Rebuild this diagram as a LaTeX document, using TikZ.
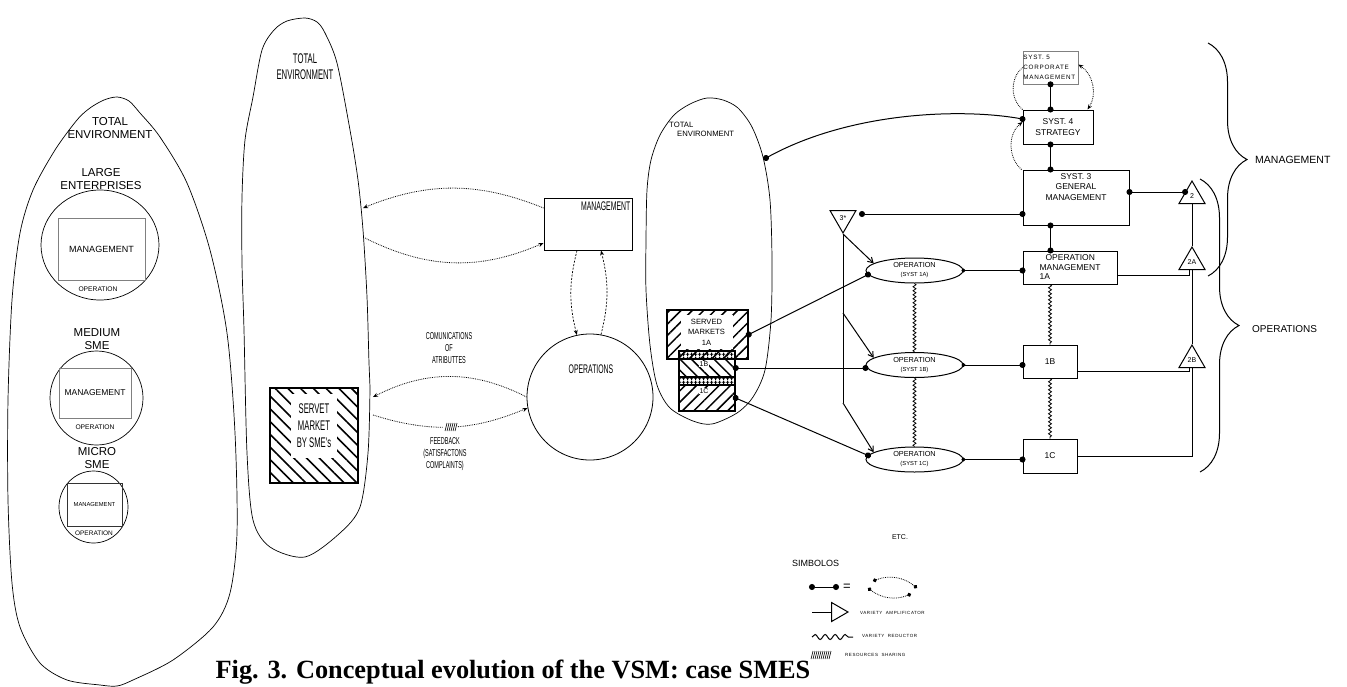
\documentclass[tikz,border=0pt]{standalone}
\usepackage{fontspec}
\setmainfont{Liberation Sans}
\newfontfamily\narrowfont{Liberation Sans}[FakeStretch=0.55]
\newfontfamily\spacedfont{Liberation Sans}[LetterSpace=12]
\newfontfamily\capfont{Liberation Serif}
\usetikzlibrary{shapes.geometric,arrows.meta,decorations.pathmorphing,decorations.pathreplacing,patterns.meta}
\newcommand{\fs}[2]{\fontsize{#1}{#2}\selectfont}
\tikzset{
  share/.pic={\foreach \i in {1,...,#1} \draw[line width=0.6pt] (\i*2-#1-1,4) -- (\i*2-#1+1,-4);}
}
\begin{document}
\begin{tikzpicture}[x=1pt,y=-1pt,
    env/.style={draw, line width=0.7pt},
    unit/.style={draw, ellipse, line width=0.7pt, inner sep=0pt},
    inbox/.style={draw=gray, line width=0.6pt, inner sep=0pt},
    txt/.style={inner sep=0pt, align=center},
    narrow/.style={txt, font=\narrowfont\fs{13}{16}},
    box/.style={draw, line width=1pt, inner sep=1pt, align=center, font=\fs{8.5}{10.5}},
    op/.style={draw, ellipse, line width=1pt, inner sep=0pt, minimum width=97, minimum height=25, align=center, font=\fs{7.3}{9}},
    tri/.style={draw, regular polygon, regular polygon sides=3, minimum size=30, inner sep=0pt, line width=1pt, font=\fs{7}{8}},
    mk/.style={draw, line width=1.2pt, inner sep=0pt},
    dl/.style={{Circle[length=6pt]}-{Circle[length=6pt]}, line width=1pt, shorten <=-3pt, shorten >=-3pt},
    ol/.style={{Circle[length=4pt]}-{Circle[length=6pt]}, line width=1pt, shorten <=-2pt, shorten >=-3pt},
    dots/.style={densely dotted, line width=0.8pt, >={Stealth[length=5pt,width=4pt]}},
    dsh/.style={dash pattern=on 2pt off 1.5pt, line width=0.7pt, >={Stealth[length=5pt,width=4pt]}},
    amp/.style={-{Straight Barb[length=5pt,width=6pt]}, line width=1pt},
    var/.style={decorate, decoration={snake, segment length=4pt, amplitude=1.5pt}, line width=0.8pt},
    brc/.style={decorate, decoration={brace, amplitude=39pt}, line width=1pt}]
  \useasboundingbox (0,0) rectangle (1347,686);

  \draw[env] plot[smooth cycle, tension=0.5] coordinates {(117,97) (104,100) (90,108) (77,120) (55,150) (33,190) (20,233) (12,300) (8,400) (8,500) (12,583) (20,627) (40,663) (67,680) (100,685) (117,686) (133,680) (173,660) (213,627) (230,593) (237,533) (235,433) (227,333) (210,250) (187,183) (160,137) (140,113) (129,101)};
  \draw[env] plot[smooth cycle, tension=0.5] coordinates {(305,18) (287,21) (274,30) (262,50) (253,97) (245,140) (242,197) (242,263) (244,330) (247,453) (253,520) (270,547) (305,557) (340,533) (360,507) (368,453) (370,387) (369,363) (367,297) (363,230) (358,180) (350,130) (337,63) (325,33) (317,22)};
  \draw[env] plot[smooth cycle, tension=0.5] coordinates {(707,98) (690,104) (674,115) (660,135) (651,160) (647,190) (646,240) (646,290) (650,345) (657,385) (670,408) (693,421) (712,424) (737,413) (753,397) (765,370) (771,320) (772,260) (770,200) (763,157) (752,127) (738,108) (723,100)};

  \node[txt, font=\fs{11.5}{12.5}] (te1) at (110,128) {TOTAL\\ENVIRONMENT};
  \node[txt, font=\fs{11.5}{13}] (tlg) at (101,179) {LARGE\\ENTERPRISES};
  \node[unit, minimum width=118, minimum height=110] (lg) at (100,245) {};
  \node[inbox, minimum width=87, minimum height=62, font=\fs{9}{10}] (lgm) at (101.5,249) {MANAGEMENT};
  \node[txt, font=\fs{6.7}{8}] (lgo) at (98,289) {OPERATION};
  \node[txt, font=\fs{11.5}{13}] (tmd) at (97,339) {MEDIUM\\SME};
  \node[unit, minimum width=93, minimum height=94] (md) at (96.5,398) {};
  \node[inbox, minimum width=72, minimum height=50, font=\fs{8.5}{10}] (mdm) at (95,393) {MANAGEMENT};
  \node[txt, font=\fs{6.7}{8}] (mdo) at (95,427) {OPERATION};
  \node[txt, font=\fs{11.5}{13}] (tmc) at (97,458) {MICRO\\SME};
  \node[unit, minimum width=69, minimum height=72] (mc) at (93.5,507) {};
  \node[inbox, draw=black!80, line width=1pt, minimum width=55, minimum height=43, font=\fs{5.8}{7}] (mcm) at (94.5,504.5) {MANAGEMENT};
  \node[txt, font=\fs{6.5}{8}] (mco) at (94,533) {OPERATION};

  \node[narrow, font=\narrowfont\fs{14}{16}] (te2) at (305,67) {TOTAL\\ENVIRONMENT};
  \node[draw, line width=1pt, minimum width=88, minimum height=52, inner sep=0pt] (mb) at (588,224) {};
  \node[narrow, anchor=north east, font=\narrowfont\fs{12.5}{14}] (mbt) at ([xshift=-2pt,yshift=-4pt]mb.north east) {MANAGEMENT};
  \node[draw, circle, line width=0.8pt, minimum size=126, inner sep=0pt] (ops) at (590,397) {};
  \node[narrow, font=\narrowfont\fs{12.5}{14}] (opst) at (591,369) {OPERATIONS};
  \node[draw, line width=1.3pt, minimum width=88, minimum height=95, inner sep=0pt, pattern={Lines[angle=-45,distance=9pt,line width=1.6pt]}] (sme) at (314,435.5) {};
  \node[narrow, fill=white, minimum width=46, minimum height=64, font=\narrowfont\fs{14}{17}] (smet) at (314,426) {SERVET\\MARKET\\BY SME's};
  \node[narrow, font=\narrowfont\fs{10}{12}] (cat) at (449,348) {COMUNICATIONS\\OF\\ATRIBUTTES};
  \node[narrow, font=\narrowfont\fs{10}{12}] (fbk) at (445,454) {FEEDBACK\\(SATISFACTONS\\COMPLAINTS)};
  \coordinate (e2a) at (363,208);
  \coordinate (e2b) at (365,238);
  \coordinate (e3a) at (373,397);
  \coordinate (e3b) at (373,415);

  \node[txt, anchor=north west, align=left, font=\fs{7.7}{9}] (te3) at (669,122) {TOTAL\\\hspace*{8pt}ENVIRONMENT};
  \coordinate (e4) at (766,158);
  \node[mk, pattern={Lines[angle=45,distance=8pt,line width=1.5pt]}, minimum width=81, minimum height=49] (sm1a) at (707.5,334.5) {};
  \node[txt, fill=white, minimum width=52, minimum height=34, font=\fs{7.6}{10.5}] (sm1at) at (706.5,332) {SERVED\\MARKETS\\1A};
  \node[mk, pattern={Hatch[distance=4pt,line width=1pt]}, minimum width=56, minimum height=8] (x1) at (707,355) {};
  \node[mk, pattern={Lines[angle=-45,distance=8pt,line width=1.5pt]}, minimum width=56, minimum height=18] (sm1b) at (707,368) {};
  \node[mk, pattern={Hatch[distance=4pt,line width=1pt]}, minimum width=56, minimum height=8] (x2) at (707,381) {};
  \node[mk, pattern={Lines[angle=45,distance=8pt,line width=1.5pt]}, minimum width=56, minimum height=26] (sm1c) at (707,398) {};
  \node[txt, fill=white, inner sep=0.5pt, font=\fs{7}{8}] (l1b) at (704,364) {1B};
  \node[txt, fill=white, inner sep=0.5pt, font=\fs{7}{8}] (l1c) at (704,391) {1C};

  \node[op] (op1a) at (914.5,270.5) {OPERATION\\{\fs{5.8}{7}(SYST 1A)}};
  \node[op] (op1b) at (914.5,365) {OPERATION\\{\fs{5.8}{7}(SYST 1B)}};
  \node[op] (op1c) at (914.5,459.5) {OPERATION\\{\fs{5.8}{7}(SYST 1C)}};
  \node[tri, shape border rotate=180] (c3) at (843,218) {3*};
  \coordinate (c3r) at (862,214);
  \coordinate (v1) at (843,313);
  \coordinate (v2) at (843,403);

  \node[box, minimum width=106, minimum height=55] (s3) at (1076,197.5) {};
  \node[txt, anchor=north, font=\fs{8.5}{10.5}] (s3t) at ([yshift=-3.5pt]s3.north) {SYST. 3\\GENERAL\\MANAGEMENT};
  \node[box, minimum width=70, minimum height=34] (s4) at (1058,127) {SYST. 4\\STRATEGY};
  \node[box, draw=gray, line width=0.7pt, minimum width=55, minimum height=33] (s5) at (1050.5,67.5) {};
  \node[txt, anchor=west, align=left, font=\spacedfont\fs{6.3}{10}] (s5t) at ([xshift=0.5pt]s5.west) {SYST. 5\\CORPORATE\\MANAGEMENT};
  \node[box, minimum width=94, minimum height=33, align=left, font=\fs{8.5}{9.5}] (om1a) at (1070,267.5) {\hspace*{6pt}OPERATION\\MANAGEMENT\\1A};
  \node[box, minimum width=54, minimum height=33] (b1b) at (1050,361.5) {1B};
  \node[box, minimum width=54, minimum height=34] (b1c) at (1050,456) {1C};
  \node[tri] (c2) at (1192,196) {2};
  \node[tri] (c2a) at (1192,262) {2A};
  \node[tri] (c2b) at (1192,360) {2B};

  \draw[brc] (1208,43) -- (1208,276);
  \draw[brc] (1200,179) -- (1200,472);
  \node[txt, anchor=west, font=\fs{10.5}{12}] (bm) at (1255,160) {MANAGEMENT};
  \node[txt, anchor=west, font=\fs{10}{12}] (bo) at (1252,329) {OPERATIONS};
  \node[txt, font=\fs{7}{8}] (etc) at (900,537) {ETC.};

  \begin{scope}
    \draw[dots,->] ([yshift=16pt]mb.west) to[bend right=22] (e2a);
    \draw[dots,->] (e2b) to[bend right=25] ([yshift=-19pt]mb.west);
    \draw[dots,->] (ops.180) to[bend right=27] (e3a);
    \draw[dots,->] (e3b) to[bend right=20] (ops.190);
    \draw[dsh,->] ([xshift=-11pt]mb.south) to[bend right=14] (ops.102);
    \draw[dsh,->] (ops.80) to[bend right=14] ([xshift=13pt]mb.south);
    \draw[dl] (sm1a.east) -- (op1a.185);
    \draw[dl] (sm1b.east) -- (sm1b.east -| op1b.west);
    \draw[dl] (sm1c.east) -- (op1c.175);
    \draw[ol] (op1a.east) -- (op1a.east -| om1a.west);
    \draw[ol] (op1b.east) -- (op1b.east -| b1b.west);
    \draw[ol] (op1c.east) -- (op1c.east -| b1c.west);
    \draw[var] (op1a.south) -- (op1b.north);
    \draw[var] (op1b.south) -- (op1c.north);
    \draw[var] (b1b.north |- om1a.south) -- (b1b.north);
    \draw[var] (b1b.south) -- (b1c.north);
    \draw[line width=1pt] (c3.corner 1) -- (v2);
    \draw[amp] (c3.corner 1) -- (op1a.170);
    \draw[amp] (v1) -- (op1b.170);
    \draw[amp] (v2) -- (op1c.170);
    \draw[dl] (c3r) -- (c3r -| s3.west);
    \draw[dl] (e4) .. controls (850,112) and (960,108) .. ([yshift=8pt]s4.west);
    \draw[dl] (s5.south) -- (s5.south |- s4.north);
    \draw[dl] (s5.south |- s4.south) -- (s5.south |- s3.north);
    \draw[dl] (s5.south |- s3.south) -- (s5.south |- om1a.north);
    \draw[dots,->] ([xshift=-1pt]s3.north west) to[bend left=50] ([yshift=5pt]s4.west);
    \draw[dots] (s4.north west) to[bend left=50] (s5.west);
    \draw[dots,<->] ([xshift=-6pt]s4.north east) to[bend right=45] ([yshift=3pt]s5.east);
    \draw[dl] (s3.east |- c2.side 1) -- (c2.side 1);
    \draw[line width=1pt] (c2.side 2) -- (c2a.corner 1);
    \draw[line width=1pt] (c2a.side 2) -- (c2b.corner 1);
    \draw[line width=1pt] (c2b.side 2) |- (b1c.east);
    \draw[line width=0.6pt] (om1a.east) ++(0,7.5) -| ([xshift=-3pt]c2a.side 2);
    \draw[line width=0.8pt] (b1b.east) ++(0,9.5) -| ([xshift=-3pt]c2b.side 2);
  \end{scope}
  \fill[white] (443,421) rectangle (457,433);
  \pic at (450,427) {share=6};

  \node[txt, anchor=west, font=\fs{9}{10}] (sym) at (792,563) {SIMBOLOS};
  \coordinate (k1) at (812,587);
  \coordinate (k2) at (836,587);
  \draw[dl] (k1) -- (k2);
  \node[txt, font=\fs{13}{13}] (eq) at (847,587) {=};
  \coordinate (k3) at (873,581);
  \coordinate (k4) at (917,588);
  \coordinate (k5) at (868,588);
  \coordinate (k6) at (911,594);
  \draw[dots, {Circle[length=4pt]}-{Circle[length=4pt]}] (k3) to[bend left=30] (k4);
  \draw[dots, {Circle[length=4pt]}-{Circle[length=4pt]}] (k5) to[bend right=30] (k6);
  \coordinate (k7) at (812,612);
  \node[draw, regular polygon, regular polygon sides=3, shape border rotate=-90, minimum size=22, inner sep=0pt, line width=1pt] (ka) at (837,612) {};
  \draw[line width=1pt] (k7) -- (ka.side 2);
  \node[txt, anchor=west, font=\spacedfont\fs{4.5}{5}] (kat) at (860,613) {VARIETY\ \ AMPLIFICATOR};
  \coordinate (k8) at (812,637);
  \coordinate (k9) at (853,637);
  \draw[decorate, decoration={snake, segment length=10pt, amplitude=2.5pt}, line width=1pt] (k8) -- (k9);
  \node[txt, anchor=west, font=\spacedfont\fs{4.5}{5}] (krt) at (862,636) {VARIETY\ \ REDUCTOR};
  \pic at (820,655) {share=10};
  \node[txt, anchor=west, font=\spacedfont\fs{4.5}{5}] (kst) at (845,655) {RESOURCES\ \ SHARING};

  \node[inner sep=0pt, anchor=base, font=\capfont\bfseries\fs{26.3}{28}] (cap) at (513,678.5) {Fig. 3. Conceptual evolution of the VSM: case SMES};
\end{tikzpicture}
\end{document}
